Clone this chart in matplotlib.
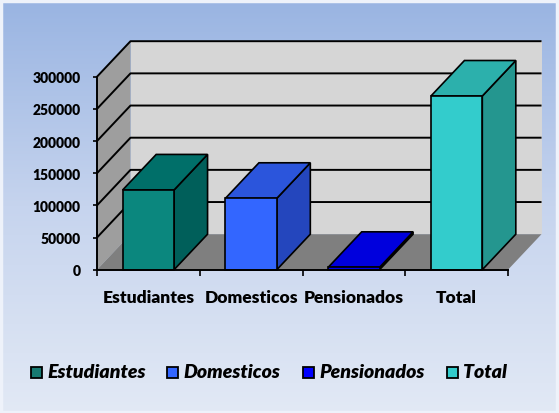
import numpy as np
import matplotlib.pyplot as plt
from matplotlib.patches import Polygon, Rectangle
from matplotlib.colors import LinearSegmentedColormap

categories = ["Estudiantes", "Domesticos", "Pensionados", "Total"]
values = [124000, 111000, 3700, 270000]
front_colors = ["#0b877e", "#3366ff", "#0000ee", "#33cccc"]
top_colors = ["#006f69", "#2b55dc", "#0000dd", "#2cb0ac"]
side_colors = ["#005f5a", "#2446bd", "#0000c8", "#24968f"]
legend_colors = ["#177a72", "#3366ff", "#0000ff", "#33cccc"]
y_ticks = [0, 50000, 100000, 150000, 200000, 250000, 300000]

W, H = 559, 414
fig = plt.figure(figsize=(W / 100, H / 100), dpi=100)

# background gradient
bg = fig.add_axes([0, 0, 1, 1])
cmap = LinearSegmentedColormap.from_list("bg", ["#99b4e2", "#c6d4ee", "#e2e9f5"])
bg.imshow(np.linspace(0, 1, 256).reshape(-1, 1), aspect="auto", cmap=cmap,
          extent=[0, 1, 0, 1], origin="upper")
bg.add_patch(Rectangle((0.002, 0.003), 0.995, 0.992, fill=False,
                       edgecolor="#eef2fa", linewidth=2.5))
bg.set_xlim(0, 1)
bg.set_ylim(0, 1)
bg.axis("off")

ax = fig.add_axes([97 / W, (H - 270.7) / H, 411 / W, 193 / H])
ax.patch.set_alpha(0)
ax.set_xlim(0, 4)
ax.set_ylim(0, 300000)
n = len(categories)
top = y_ticks[-1]
dx = 33.5 / 102.75
dy = 35.5 * top / 193

# walls and floor
ax.add_patch(Polygon([(0, 0), (dx, dy), (dx, top + dy), (0, top)],
                     closed=True, facecolor="#9e9e9e", edgecolor="none",
                     clip_on=False, zorder=1))
ax.add_patch(Polygon([(dx, dy), (n + dx, dy), (n + dx, top + dy), (dx, top + dy)],
                     closed=True, facecolor="#d6d6d6", edgecolor="none",
                     clip_on=False, zorder=1))
ax.add_patch(Polygon([(0, 0), (n, 0), (n + dx, dy), (dx, dy)],
                     closed=True, facecolor="#7f7f7f", edgecolor="none",
                     clip_on=False, zorder=1))
for v in y_ticks[1:]:
    ax.plot([0, dx, n + dx], [v, v + dy, v + dy], color="black", lw=1.4,
            clip_on=False, zorder=2, solid_capstyle="butt")

# 3d bars
bw = 0.5
for i, val in enumerate(values):
    x0 = i + 0.5 - bw / 2
    x1 = x0 + bw
    kw = dict(closed=True, edgecolor="black", linewidth=1.2, clip_on=False, zorder=3)
    ax.add_patch(Polygon([(x1, 0), (x1 + dx, dy), (x1 + dx, val + dy), (x1, val)],
                         facecolor=side_colors[i], **kw))
    ax.add_patch(Polygon([(x0, val), (x1, val), (x1 + dx, val + dy), (x0 + dx, val + dy)],
                         facecolor=top_colors[i], **kw))
    ax.add_patch(Polygon([(x0, 0), (x1, 0), (x1, val), (x0, val)],
                         facecolor=front_colors[i], **kw))

for s in ["top", "right"]:
    ax.spines[s].set_visible(False)
for s in ["left", "bottom"]:
    ax.spines[s].set_linewidth(1.4)
    ax.spines[s].set_zorder(4)

ax.set_yticks(y_ticks)
ax.set_yticklabels([str(v) for v in y_ticks])
ax.set_xticks(np.arange(n + 1))
ax.set_xticklabels([""] * (n + 1))
ax.set_xticks(np.arange(n) + 0.5, minor=True)
ax.set_xticklabels(categories, minor=True)
ax.tick_params(axis="y", length=3, width=1.2, pad=9, labelsize=10)
ax.tick_params(axis="x", which="major", length=4.5, width=1.2, direction="out")
ax.tick_params(axis="x", which="minor", length=0, pad=14, labelsize=12.5)
for lab in ax.get_yticklabels() + ax.get_xticklabels(minor=True):
    lab.set_fontfamily("Lato")
    lab.set_fontweight("heavy")

# legend
marker_x = [31, 167, 303, 447]
ly = 373
for i, cat in enumerate(categories):
    bg.add_patch(Rectangle((marker_x[i] / W, (H - ly - 6) / H), 11 / W, 11 / H,
                           facecolor=legend_colors[i], edgecolor="black", linewidth=1.3))
    bg.text((marker_x[i] + 16) / W, (H - ly) / H, cat, fontsize=14,
            fontfamily="Lato", fontweight="heavy", fontstyle="italic",
            va="center", ha="left")

fig.savefig("out.png", dpi=100)
